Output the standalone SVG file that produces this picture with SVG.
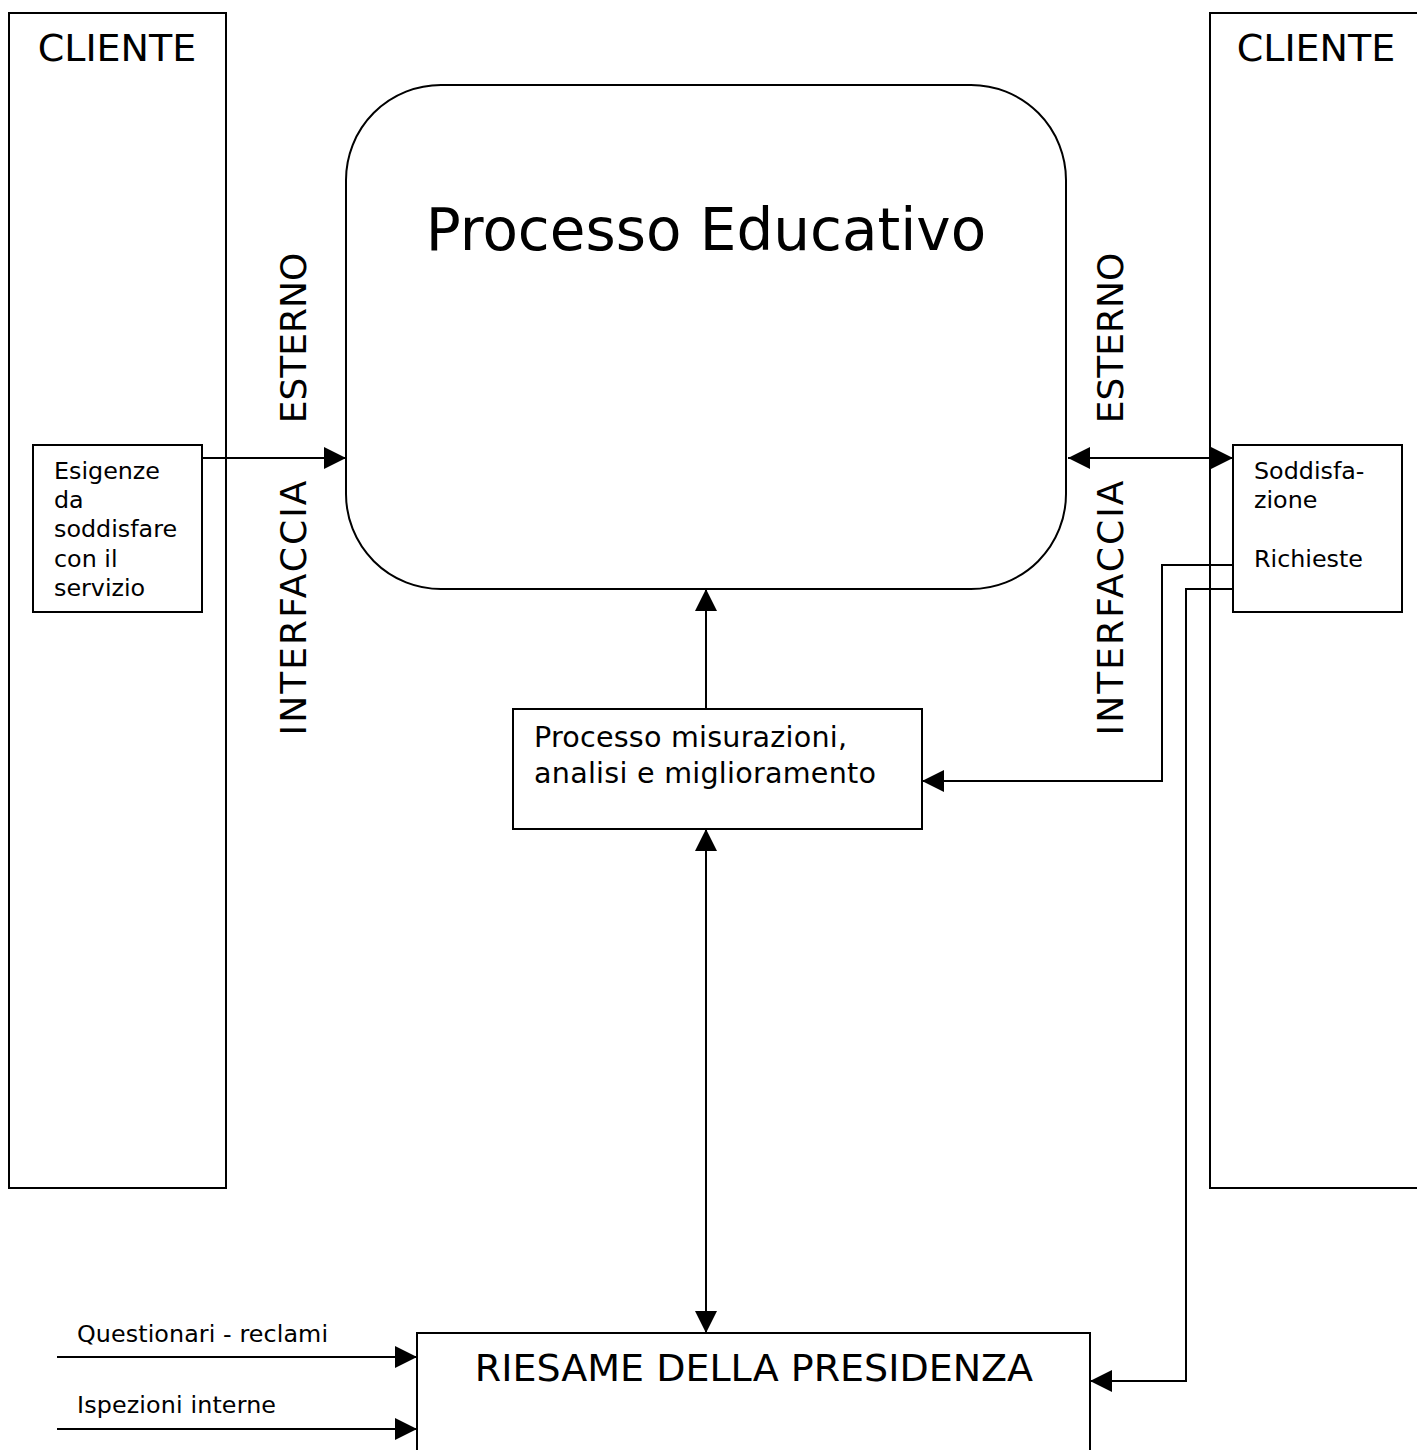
<svg xmlns="http://www.w3.org/2000/svg" width="1417" height="1450" viewBox="0 0 1417 1450">
  <style>
    .box { fill: #fff; stroke: #000; stroke-width: 2; }
    .wire { fill: none; stroke: #000; stroke-width: 2; }
    text { font-family: "DejaVu Sans", Verdana, sans-serif; fill: #000; }
    .big { font-size: 38px; }
    .side { font-size: 36px; }
    .small { font-size: 23.8px; }
    .mid { font-size: 28.6px; }
  </style>
  <defs>
    <marker id="head" markerUnits="userSpaceOnUse" markerWidth="22" markerHeight="22" viewBox="0 0 20 20" refX="20" refY="10" orient="auto-start-reverse">
      <path d="M0,0 L20,10 L0,20 Z" fill="#000"/>
    </marker>
  </defs>

  <rect width="1417" height="1450" fill="#fff"/>

  <!-- client columns -->
  <g id="cliente-sx">
    <rect class="box" x="9" y="13" width="217" height="1175"/>
    <text class="big" x="117" y="61" text-anchor="middle">CLIENTE</text>
  </g>
  <g id="cliente-dx">
    <rect class="box" x="1210" y="13" width="230" height="1175"/>
    <text class="big" x="1316" y="61" text-anchor="middle">CLIENTE</text>
  </g>

  <!-- interface labels -->
  <g id="interfaccia-sx">
    <text class="side" transform="translate(306,338) rotate(-90)" text-anchor="middle">ESTERNO</text>
    <text class="side" transform="translate(306,608) rotate(-90)" text-anchor="middle" textLength="255">INTERFACCIA</text>
  </g>
  <g id="interfaccia-dx">
    <text class="side" transform="translate(1123,338) rotate(-90)" text-anchor="middle">ESTERNO</text>
    <text class="side" transform="translate(1123,608) rotate(-90)" text-anchor="middle" textLength="255">INTERFACCIA</text>
  </g>

  <!-- main process -->
  <g id="processo-educativo">
    <rect class="box" x="346" y="85" width="720" height="504" rx="95" ry="95"/>
    <text x="706" y="250" font-size="58" text-anchor="middle">Processo Educativo</text>
  </g>

  <g id="esigenze">
    <rect class="box" x="33" y="445" width="169" height="167"/>
    <text class="small" x="54" y="479">Esigenze</text>
    <text class="small" x="54" y="508">da</text>
    <text class="small" x="54" y="537">soddisfare</text>
    <text class="small" x="54" y="567">con il</text>
    <text class="small" x="54" y="596">servizio</text>
  </g>

  <g id="soddisfazione">
    <rect class="box" x="1233" y="445" width="169" height="167"/>
    <text class="small" x="1254" y="479">Soddisfa-</text>
    <text class="small" x="1254" y="508">zione</text>
    <text class="small" x="1254" y="567">Richieste</text>
  </g>

  <g id="misurazioni">
    <rect class="box" x="513" y="709" width="409" height="120"/>
    <text class="mid" x="534" y="747" textLength="313">Processo misurazioni,</text>
    <text class="mid" x="534" y="783" textLength="342">analisi e miglioramento</text>
  </g>

  <g id="riesame">
    <rect class="box" x="417" y="1333" width="673" height="130"/>
    <text class="big" x="754" y="1381" text-anchor="middle">RIESAME DELLA PRESIDENZA</text>
  </g>

  <g id="ingressi">
    <text class="small" x="77" y="1342" textLength="251">Questionari - reclami</text>
    <text class="small" x="77" y="1413" textLength="199">Ispezioni interne</text>
  </g>

  <!-- connectors -->
  <g id="connectors">
    <path class="wire" d="M202,458 H346" marker-end="url(#head)"/>
    <path class="wire" d="M1068,458 H1233" marker-start="url(#head)" marker-end="url(#head)"/>
    <path class="wire" d="M706,709 V589" marker-end="url(#head)"/>
    <path class="wire" d="M706,829 V1333" marker-start="url(#head)" marker-end="url(#head)"/>
    <path class="wire" d="M1233,565 H1162 V781 H922" marker-end="url(#head)"/>
    <path class="wire" d="M1233,589 H1186 V1381 H1090" marker-end="url(#head)"/>
    <path class="wire" d="M57,1357 H417" marker-end="url(#head)"/>
    <path class="wire" d="M57,1429 H417" marker-end="url(#head)"/>
  </g>
</svg>
